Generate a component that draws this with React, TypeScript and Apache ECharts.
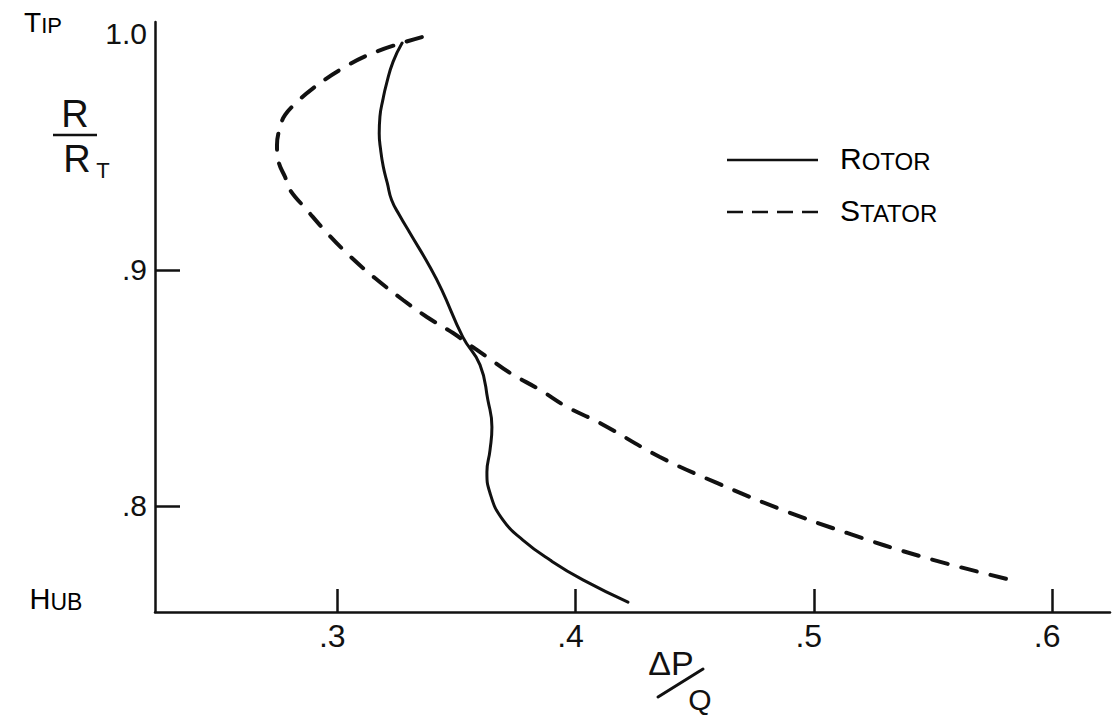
import React, { useEffect, useRef } from "react";
import * as echarts from "echarts";

// Pressure-rise coefficient ΔP/Q across the span (R/R_T) for rotor and stator
const rotorDeltaP = [0.3272, 0.3234, 0.3207, 0.3191, 0.3179, 0.3176, 0.3182, 0.3193, 0.3210, 0.3228, 0.3263, 0.3305, 0.3389, 0.3439, 0.3527, 0.3599, 0.3632, 0.3649, 0.3641, 0.3628, 0.3641, 0.3695, 0.3779, 0.3893, 0.4031, 0.4220];
const rotorRadius = [0.9961, 0.9881, 0.9790, 0.9719, 0.9649, 0.9578, 0.9508, 0.9437, 0.9367, 0.9296, 0.9228, 0.9156, 0.9012, 0.8914, 0.8715, 0.8597, 0.8448, 0.8334, 0.8236, 0.8143, 0.8054, 0.7940, 0.7855, 0.7770, 0.7686, 0.7592];

const statorDeltaP = [0.3355, 0.3150, 0.3011, 0.2894, 0.2831, 0.2781, 0.2760, 0.2747, 0.2755, 0.2781, 0.2802, 0.2873, 0.2957, 0.3053, 0.3158, 0.3276, 0.3376, 0.3486, 0.3544, 0.3628, 0.3725, 0.3851, 0.3964, 0.4102, 0.4354, 0.4593, 0.4870, 0.5139, 0.5458, 0.5810];
const statorRadius = [0.9986, 0.9919, 0.9847, 0.9766, 0.9711, 0.9656, 0.9605, 0.9529, 0.9453, 0.9393, 0.9338, 0.9253, 0.9156, 0.9058, 0.8965, 0.8872, 0.8800, 0.8732, 0.8690, 0.8631, 0.8563, 0.8491, 0.8419, 0.8351, 0.8207, 0.8097, 0.7982, 0.7885, 0.7783, 0.7690];

const xTickValues = [0.3, 0.4, 0.5, 0.6];
const yTickValues = [0.8, 0.9];
const yLabelValues = [0.8, 0.9, 1.0];

const INK = "#111";
const FONT = "Liberation Sans";

const fmtTick = (v: number) => (v >= 1 ? v.toFixed(1) : "." + Math.round(v * 10));

const zip = (xs: number[], ys: number[]) => xs.map((x, i) => [x, ys[i]]);

export default function App() {
  const ref = useRef<HTMLDivElement>(null);

  useEffect(() => {
    if (!ref.current) return;
    const chart = echarts.init(ref.current, undefined, { renderer: "svg" });

    const smallCaps = (size: number, small: number) => ({
      b: { fontSize: size, fontFamily: FONT, color: INK, verticalAlign: "bottom" },
      s: { fontSize: small, fontFamily: FONT, color: INK, verticalAlign: "bottom" },
    });

    chart.setOption({
      animation: false,
      backgroundColor: "#fff",
      grid: { left: 155, right: 4, top: 22, bottom: 105, containLabel: false },
      xAxis: {
        type: "value",
        min: 0.2235,
        max: 0.6243,
        splitLine: { show: false },
        axisLine: { onZero: false, lineStyle: { color: INK, width: 2.5 } },
        axisTick: {
          inside: true,
          length: 23,
          customValues: xTickValues,
          lineStyle: { color: INK, width: 2.5 },
        },
        axisLabel: {
          customValues: xTickValues,
          margin: 8,
          formatter: (v: number) => "{a|" + fmtTick(v) + "}",
          rich: {
            a: { fontSize: 32, fontFamily: FONT, color: INK, padding: [0, 10, 0, 0] },
          },
        },
      },
      yAxis: {
        type: "value",
        min: 0.755,
        max: 1.005,
        splitLine: { show: false },
        axisLine: { onZero: false, lineStyle: { color: INK, width: 2.5 } },
        axisTick: {
          inside: true,
          length: 25,
          customValues: yTickValues,
          lineStyle: { color: INK, width: 2.5 },
        },
        axisLabel: {
          customValues: yLabelValues,
          margin: 8,
          fontSize: 30,
          fontFamily: FONT,
          color: INK,
          formatter: (v: number) => fmtTick(v),
        },
      },
      series: [
        {
          name: "Rotor",
          type: "line",
          data: zip(rotorDeltaP, rotorRadius),
          symbol: "none",
          smooth: 0.5,
          lineStyle: { color: INK, width: 3, cap: "round" },
        },
        {
          name: "Stator",
          type: "line",
          data: zip(statorDeltaP, statorRadius),
          symbol: "none",
          smooth: 0.4,
          lineStyle: { color: INK, width: 4, type: [16, 14], cap: "round" },
        },
      ],
      graphic: [
        // span end markers
        {
          type: "text",
          x: 43,
          y: 22,
          style: { text: "{b|T}{s|IP}", rich: smallCaps(28, 22), align: "center", verticalAlign: "middle" },
        },
        {
          type: "text",
          x: 56,
          y: 599,
          style: { text: "{b|H}{s|UB}", rich: smallCaps(29, 23), align: "center", verticalAlign: "middle" },
        },
        // y-axis name R / R_T
        {
          type: "text",
          x: 75,
          y: 114,
          style: { text: "R", fontSize: 38, fontFamily: FONT, fill: INK, align: "center", verticalAlign: "middle" },
        },
        { type: "line", shape: { x1: 53, y1: 135, x2: 97, y2: 135 }, style: { stroke: INK, lineWidth: 2.5 } },
        {
          type: "text",
          x: 77,
          y: 159,
          style: { text: "R", fontSize: 38, fontFamily: FONT, fill: INK, align: "center", verticalAlign: "middle" },
        },
        {
          type: "text",
          x: 103,
          y: 170,
          style: { text: "T", fontSize: 22, fontFamily: FONT, fill: INK, align: "center", verticalAlign: "middle" },
        },
        // x-axis name ΔP / Q
        {
          type: "text",
          x: 671,
          y: 663,
          style: { text: "ΔP", fontSize: 34, fontFamily: FONT, fill: INK, align: "center", verticalAlign: "middle" },
        },
        { type: "line", shape: { x1: 658, y1: 697, x2: 703, y2: 669 }, style: { stroke: INK, lineWidth: 3, lineCap: "round" } },
        {
          type: "text",
          x: 700,
          y: 699,
          style: { text: "Q", fontSize: 30, fontFamily: FONT, fill: INK, align: "center", verticalAlign: "middle" },
        },
        // key
        { type: "line", shape: { x1: 727, y1: 160, x2: 818, y2: 160 }, style: { stroke: INK, lineWidth: 2.5 } },
        {
          type: "text",
          x: 840,
          y: 158,
          style: { text: "{b|R}{s|OTOR}", rich: smallCaps(30, 24), align: "left", verticalAlign: "middle" },
        },
        {
          type: "line",
          shape: { x1: 727, y1: 212, x2: 818, y2: 212 },
          style: { stroke: INK, lineWidth: 2.5, lineDash: [16, 9] },
        },
        {
          type: "text",
          x: 840,
          y: 210,
          style: { text: "{b|S}{s|TATOR}", rich: smallCaps(30, 24), align: "left", verticalAlign: "middle" },
        },
      ],
    });

    return () => chart.dispose();
  }, []);

  return (
    <div
      ref={ref}
      style={{ position: "fixed", left: 0, top: 0, width: 1114, height: 717, background: "#fff" }}
    />
  );
}
